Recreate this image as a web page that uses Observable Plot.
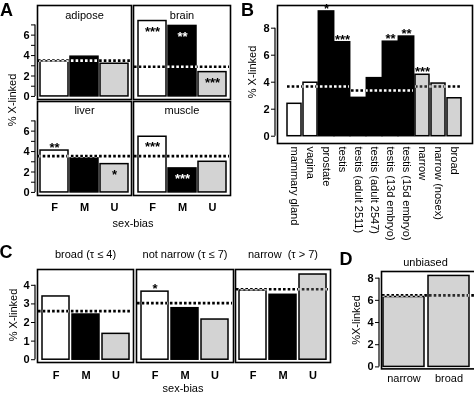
<!DOCTYPE html>
<html><head><meta charset="utf-8">
<script src="https://cdn.jsdelivr.net/npm/d3@7"></script>
<script src="https://cdn.jsdelivr.net/npm/@observablehq/plot@0.6"></script>
<style>
html,body{margin:0;padding:0;background:#fff;overflow:hidden;}
#chart{position:relative;width:474px;height:394px;overflow:hidden;background:#fff;}
#chart svg{position:absolute;}
</style></head><body><div id="chart"></div>
<script>
// ---------- data ----------
const sexBias = ["F","M","U"];
// Panel A
const adiposeVals = [3.43, 3.89, 3.2];
const brainVals   = [7.38, 6.9, 2.38];
const liverVals   = [4.1, 3.33, 2.77];
const muscleVals  = [5.45, 2.35, 3.0];
const expectedA   = {adipose: 3.5, brain: 2.9, liver: 3.55, muscle: 3.55};
const adiposeStars = ["", "", ""];
const brainStars   = ["***", "**", "***"];
const liverStars   = ["**", "", "*"];
const liverStarPos = ["above", "in", "in"];
const muscleStars  = ["***", "***", ""];
const yTicksA = [0, 1, 2, 3, 4, 5, 6, 7];
// Panel B
const tissuesB = ["mammary gland","vagina","prostate","testis","testis (adult 2511)","testis (adult 2547)","testis (13d embryo)","testis (15d embryo)","narrow","narrow (nosex)","broad"];
const valuesB = [2.4, 3.96, 9.24, 6.96, 2.84, 4.3, 7.0, 7.38, 4.55, 3.9, 2.81];
const biasB   = ["F","F","M","M","M","M","M","M","U","U","U"];
const starsB  = ["","","*","***","","","**","**","***","",""];
const starPosB = tissuesB.map(() => "above");
const expFromB = ["mammary gland","testis (adult 2511)","narrow"];
const expToB   = ["testis","testis (15d embryo)","broad"];
const expValB  = [3.68, 3.38, 3.68];
const yTicksB = [0, 2, 4, 6, 8];
// Panel C
const broadC      = [3.40, 2.43, 1.39];
const notNarrowC  = [3.66, 2.77, 2.16];
const narrowC     = [3.72, 3.49, 4.58];
const expectedC   = [2.61, 3.04, 3.79];
const notNarrowStars = ["*", "", ""];
const titlesC = ["broad (τ ≤ 4)", "not narrow (τ ≤ 7)", "narrow\u00a0 (τ > 7)"];
const yTicksC = [0, 1, 2, 3, 4];
// Panel D
const catsD = ["narrow", "broad"];
const valuesD = [6.3, 8.2];
const expectedD = 6.45;
const yTicksD = [0, 2, 4, 6, 8];

// ---------- helpers ----------
const FONT = "'Liberation Sans', Arial, Helvetica, sans-serif";
const GRAY = "#d3d3d3";
const chart = document.getElementById("chart");
const DOT = {stroke: "white", strokeWidth: 2.6, strokeDasharray: "2.6 2.1", mixBlendMode: "difference"};

const axisLine = (max) => (index, scales, values, dims) => {
  const x = dims.marginLeft - 2;
  const l = document.createElementNS("http://www.w3.org/2000/svg", "line");
  l.setAttribute("x1", x); l.setAttribute("x2", x);
  l.setAttribute("y1", scales.y(0)); l.setAttribute("y2", scales.y(max));
  l.setAttribute("stroke", "black"); l.setAttribute("stroke-width", "1.2");
  return l;
};

function panel(o) {
  const rows = o.cats.map((c, i) => ({
    cat: c, value: o.values[i], bias: o.bias[i],
    star: o.stars ? o.stars[i] : "", pos: o.starPos ? o.starPos[i] : "in"
  }));
  const fillOf = d => d.bias === "F" ? "white" : d.bias === "M" ? "black" : GRAY;
  const marks = [Plot.frame({fill: "white", stroke: "none"})];
  marks.push(Plot.barY(rows.filter(d => !(o.merge && d.bias === "M")),
    {x: "cat", y1: 0, y2: "value", fill: fillOf, stroke: "black", strokeWidth: 1.5}));
  if (o.merge) marks.push(Plot.barY(rows.filter(d => d.bias === "M"),
    {x: "cat", y1: 0, y2: "value", fill: "black", stroke: "black", strokeWidth: 1.5, insetLeft: -0.7, insetRight: -0.7}));
  if (o.groups) marks.push(Plot.ruleY(o.groups, {y: "value", x1: "from", x2: "to", ...DOT}));
  else marks.push(Plot.ruleY([o.expected], {...DOT, insetLeft: 1, insetRight: 1}));
  const starFill = d => (d.bias === "M" && d.pos === "in") ? "white" : "black";
  marks.push(Plot.text(rows.filter(d => d.star && d.pos === "in"),
    {x: "cat", y: "value", text: "star", dy: 10.5, fill: starFill, fontSize: 13, fontWeight: "bold"}));
  marks.push(Plot.text(rows.filter(d => d.star && d.pos === "above"),
    {x: "cat", y: "value", text: "star", dy: -2.5, fill: "black", fontSize: 13, fontWeight: "bold"}));
  marks.push(Plot.frame({stroke: "black", strokeWidth: 1.6}));
  if (o.title) marks.push(Plot.text([o.title], {frameAnchor: o.titleAnchor || "top", dx: o.titleDx || 0, dy: o.titleDy,
    fontSize: 11, lineAnchor: "middle", textAnchor: "middle", fill: "black"}));
  if (o.yTicks) {
    marks.push(Plot.axisY({ticks: o.yTicks, tickFormat: o.yFormat || (d => d), tickSize: 4, tickPadding: 2, dx: -2,
      label: null, fontSize: 11, fontWeight: "bold"}));
    marks.push(axisLine(o.lineMax));
  }
  if (o.xAxis) marks.push(Plot.axisX({tickSize: 0, tickPadding: o.xPad, label: null, fontSize: 11,
    fontWeight: o.xBold ? "bold" : "normal", tickRotate: o.rotate || 0}));
  const svg = Plot.plot({
    width: o.mL + o.w + o.mR, height: o.mT + o.h + o.mB,
    marginLeft: o.mL, marginRight: o.mR, marginTop: o.mT, marginBottom: o.mB,
    x: {domain: o.cats, paddingInner: o.pi, paddingOuter: o.po, align: o.align ?? 0.5, ...(o.xAxis ? {} : {axis: null})},
    y: {domain: o.yDomain, ...(o.yTicks ? {} : {axis: null})},
    color: {type: "identity"},
    style: {fontFamily: FONT, fontSize: "11px", background: "none", overflow: "visible", color: "black"},
    marks
  });
  svg.style.left = (o.x - o.mL) + "px";
  svg.style.top = (o.y - o.mT) + "px";
  chart.append(svg);
}

// ---------- Panel A ----------
const yDomA = [-0.3, 8.9];
const commonA = {cats: sexBias, bias: sexBias, yDomain: yDomA, pi: 0.07, po: 0.1, h: 94, mR: 0, lineMax: 7,
  yFormat: d => d % 2 ? "" : d, xBold: true};
panel({...commonA, values: adiposeVals, stars: adiposeStars, expected: expectedA.adipose, title: "adipose", titleDy: 10,
  x: 37, y: 5, w: 94, mL: 37, mT: 5, mB: 0, yTicks: yTicksA});
panel({...commonA, values: brainVals, stars: brainStars, expected: expectedA.brain, title: "brain", titleDy: 10,
  x: 133, y: 5, w: 97, mL: 0, mT: 5, mB: 0});
panel({...commonA, values: liverVals, stars: liverStars, starPos: liverStarPos, expected: expectedA.liver, title: "liver", titleDy: 8.5,
  x: 37, y: 101, w: 94, mL: 37, mT: 0, mB: 22, yTicks: yTicksA, xAxis: true, xPad: 8});
panel({...commonA, values: muscleVals, stars: muscleStars, expected: expectedA.muscle, title: "muscle", titleDy: 8.5,
  x: 133, y: 101, w: 97, mL: 0, mT: 0, mB: 22, xAxis: true, xPad: 8});

// ---------- Panel B ----------
panel({cats: tissuesB, values: valuesB, bias: biasB, stars: starsB, starPos: starPosB, merge: true,
  groups: expFromB.map((f, i) => ({from: f, to: expToB[i], value: expValB[i]})),
  yDomain: [-0.54, 9.68], pi: 0.1, po: 0.44, x: 277, y: 5, w: 195, h: 138, mL: 37, mT: 5, mR: 2, mB: 100,
  yTicks: yTicksB, lineMax: 8, xAxis: true, xPad: 3, rotate: 90});

// ---------- Panel C ----------
const yDomC = [-0.15, 4.85];
const commonC = {cats: sexBias, bias: sexBias, yDomain: yDomC, pi: 0.1, po: 0.12, y: 269, h: 93, mR: 0, mT: 18, mB: 22,
  xAxis: true, xPad: 9, titleDy: -15.5, xBold: true};
panel({...commonC, values: broadC, expected: expectedC[0], title: titlesC[0], x: 37, w: 96, mL: 37, yTicks: yTicksC, lineMax: 4});
panel({...commonC, values: notNarrowC, stars: notNarrowStars, starPos: ["above","in","in"], expected: expectedC[1], title: titlesC[1], x: 136, w: 97, mL: 0});
panel({...commonC, values: narrowC, expected: expectedC[2], title: titlesC[2], x: 235, w: 95, mL: 0});

// ---------- Panel D ----------
panel({cats: catsD, values: valuesD, bias: ["U","U"], expected: expectedD, title: "unbiased", titleAnchor: "top-left", titleDx: 44, titleDy: -9,
  yDomain: [-0.18, 8.6], pi: 0.0889, po: 0.6, align: 0.037, x: 381, y: 270.6, w: 140, h: 97.4,
  mL: 36, mT: 16, mR: 0, mB: 20, yTicks: yTicksD, lineMax: 8, xAxis: true, xPad: 5});

// ---------- overlay labels ----------
const panelLetters = ["A", "B", "C", "D"];
const yLabels = ["% X-linked", "% X-linked", "% X-linked", "%X-linked"];
const xLabel = "sex-bias";
const ov = d3.create("svg").attr("width", 474).attr("height", 394)
  .style("left", "0px").style("top", "0px").style("pointer-events", "none")
  .style("font-family", FONT);
[[0, 15.5], [241, 15.5], [-0.5, 258], [339.5, 265]].forEach(([x, y], i) =>
  ov.append("text").attr("x", x).attr("y", y).attr("font-size", 18).attr("font-weight", "bold").text(panelLetters[i]));
[[12, 100], [252, 72], [13, 315], [356, 320]].forEach(([x, y], i) =>
  ov.append("text").attr("transform", `translate(${x},${y}) rotate(-90)`).attr("text-anchor", "middle")
    .attr("dominant-baseline", "central").attr("font-size", 11).text(yLabels[i]));
[[133, 223], [183, 388]].forEach(([x, y]) =>
  ov.append("text").attr("x", x).attr("y", y).attr("text-anchor", "middle").attr("dominant-baseline", "central")
    .attr("font-size", 11).text(xLabel));
chart.append(ov.node());
</script></body></html>
